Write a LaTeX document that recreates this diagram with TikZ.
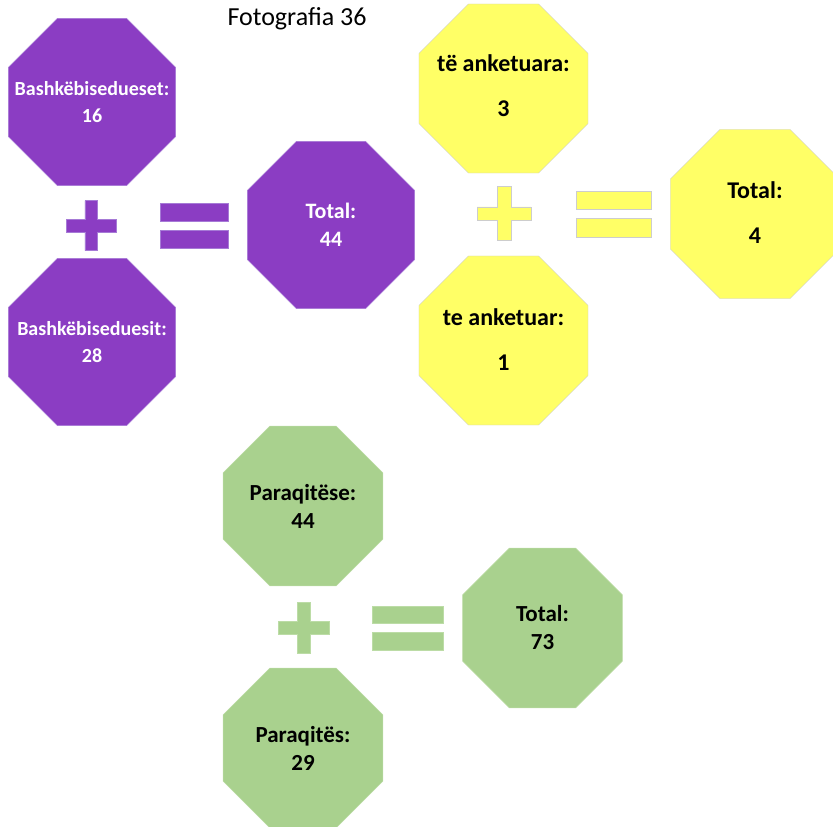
\documentclass[tikz,border=0pt]{standalone}
\usepackage{fontspec}
\setmainfont{Carlito}
\usetikzlibrary{shapes.geometric}

\definecolor{violetfill}{HTML}{8B3DC3}
\definecolor{violetline}{HTML}{A67AD6}
\definecolor{lemonfill}{HTML}{FFFF66}
\definecolor{lemonline}{HTML}{CDCDCD}
\definecolor{sagefill}{HTML}{A9D18E}
\definecolor{sageline}{HTML}{BCDCA6}

\tikzset{
  octa/.style={regular polygon, regular polygon sides=8, inner sep=0pt},
  violetocta/.style={octa, fill=violetfill, draw=violetline, minimum size=181pt},
  lemonocta/.style={octa, fill=lemonfill, draw=lemonline, minimum size=183pt},
  sageocta/.style={octa, fill=sagefill, draw=sageline, minimum size=173pt},
  violettext/.style={align=center, text=white, font=\fontsize{20}{27}\selectfont\bfseries},
  lemontext/.style={align=center, text=black, font=\fontsize{24}{45}\selectfont\bfseries},
  sagetext/.style={align=center, text=black, font=\fontsize{23}{28}\selectfont\bfseries},
  plusmark/.pic={
    \filldraw (-6.25,-25) -- (6.25,-25) -- (6.25,-6.25) -- (25,-6.25) -- (25,6.25) -- (6.25,6.25)
      -- (6.25,25) -- (-6.25,25) -- (-6.25,6.25) -- (-25,6.25) -- (-25,-6.25) -- (-6.25,-6.25) -- cycle;
  }
}

\begin{document}
\begin{tikzpicture}[x=1pt, y=-1pt]
  \useasboundingbox (0,0) rectangle (833,827);

  \node[font=\fontsize{26}{30}\selectfont] (title) at (297,19) {Fotografia 36};

  % purple group
  \node[violetocta, label={[violettext]center:Bashkëbisedueset:\\16}] (bashA) at (92,102) {};
  \node[violetocta, label={[violettext]center:Bashkëbiseduesit:\\28}] (bashB) at (92,342) {};
  \node[violetocta, label={[violettext, font=\fontsize{22}{28}\selectfont\bfseries]center:Total:\\44}] (totalA) at (331,225) {};
  \pic[fill=violetfill, draw=violetline] at (91,225.5) {plusmark};
  \filldraw[fill=violetfill, draw=violetline] (160,203) rectangle (228,221);
  \filldraw[fill=violetfill, draw=violetline] (160,230) rectangle (228,248);

  % yellow group
  \node[lemonocta, label={[lemontext, yshift=3pt]center:të anketuara:\\3}] (ankA) at (503.5,88.5) {};
  \node[lemonocta, label={[lemontext, yshift=1pt]center:te anketuar:\\1}] (ankB) at (503.5,340.5) {};
  \node[lemonocta, label={[lemontext, yshift=1pt]center:Total:\\4}] (totalB) at (755,214) {};
  \pic[fill=lemonfill, draw=lemonline, scale=1.08] at (504,213.5) {plusmark};
  \filldraw[fill=lemonfill, draw=lemonline] (576,191) rectangle (651,209);
  \filldraw[fill=lemonfill, draw=lemonline] (576,218) rectangle (651,237);

  % green group
  \node[sageocta, label={[sagetext]center:Paraqitëse:\\44}] (parA) at (303,506) {};
  \node[sageocta, label={[sagetext]center:Paraqitës:\\29}] (parB) at (303,748) {};
  \node[sageocta, label={[sagetext]center:Total:\\73}] (totalC) at (542.5,628) {};
  \pic[fill=sagefill, draw=sageline, scale=1.02] at (303.5,628) {plusmark};
  \filldraw[fill=sagefill, draw=sageline] (372,606) rectangle (443,623);
  \filldraw[fill=sagefill, draw=sageline] (372,632) rectangle (443,650);
\end{tikzpicture}
\end{document}
